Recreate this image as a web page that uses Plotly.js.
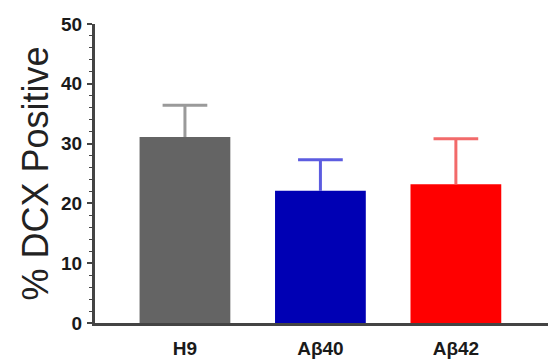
<!DOCTYPE html>
<html><head><meta charset="utf-8">
<script src="https://cdn.plot.ly/plotly-3.0.1.min.js"></script>
<style>html,body{margin:0;padding:0;background:#fff}#chart{width:555px;height:360px}</style>
</head><body><div id="chart"></div>
<script>
const categories = ["H9", "Aβ40", "Aβ42"];
const means = [31.1, 22.1, 23.2];
const errors = [5.3, 5.2, 7.6];
const barColors = ["#646464", "#0000b4", "#ff0000"];
const errColors = ["#9a9a9a", "#5c5ce0", "#f26a6a"];
const capHalf = 0.165;

const bars = categories.map((c, i) => ({
  type: "bar", x: [i], y: [means[i]], width: 0.67,
  marker: {color: barColors[i], line: {width: 0}},
  showlegend: false, hoverinfo: "skip"
}));
const errs = categories.map((c, i) => ({
  type: "scatter", mode: "lines",
  x: [i, i, null, i - capHalf, i + capHalf],
  y: [means[i], means[i] + errors[i], null, means[i] + errors[i], means[i] + errors[i]],
  line: {color: errColors[i], width: 3},
  showlegend: false, hoverinfo: "skip", cliponaxis: false
}));

const tf = {size: 19, family: "Liberation Sans, Arial, sans-serif", weight: "bold", color: "#1a1a1a"};
const layout = {
  width: 555, height: 360,
  margin: {l: 95, r: 7, t: 24, b: 37},
  paper_bgcolor: "#fff", plot_bgcolor: "#fff",
  font: {family: "Liberation Sans, Arial, sans-serif", color: "#222"},
  xaxis: {
    range: [-0.664, 2.68], tickvals: [0, 1, 2], ticktext: categories,
    showline: true, linecolor: "#444", linewidth: 3, ticks: "", showgrid: false,
    zeroline: false, tickfont: tf, ticklabelstandoff: 6
  },
  yaxis: {
    range: [0, 50], tickvals: [0, 10, 20, 30, 40, 50], showline: true, linecolor: "#444",
    linewidth: 3, ticks: "outside", ticklen: 5, tickwidth: 2, tickcolor: "#444",
    showgrid: false, zeroline: false,
    minor: {dtick: 2, ticks: "outside", ticklen: 3, tickwidth: 1, tickcolor: "#444", showgrid: false},
    tickfont: tf, ticklabelstandoff: 1,
    title: {text: "% DCX Positive", font: {size: 36, color: "#222"}, standoff: 2}
  }
};
Plotly.newPlot("chart", bars.concat(errs), layout, {staticPlot: true});
</script></body></html>
